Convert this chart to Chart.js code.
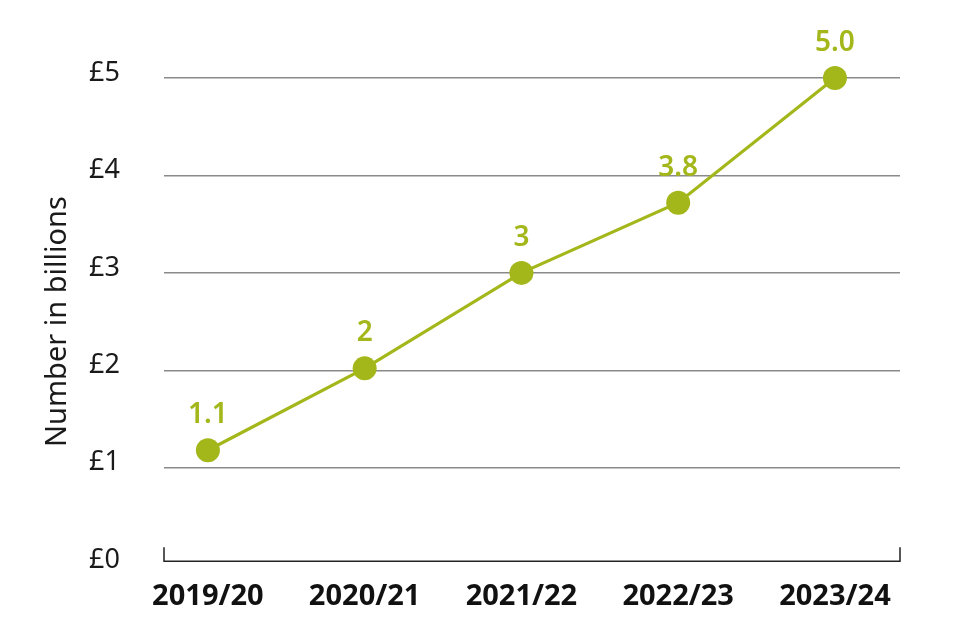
<!DOCTYPE html>
<html><head><meta charset="utf-8">
<script src="https://cdn.jsdelivr.net/npm/chart.js@4/dist/chart.umd.min.js"></script>
<style>html,body{margin:0;padding:0;background:#fff}#wrap{width:960px;height:640px}</style>
</head><body><div id="wrap"><canvas id="c" width="960" height="640"></canvas></div>
<script>
const categories = ["2019/20","2020/21","2021/22","2022/23","2023/24"];
const values = [1.18, 2.02, 3.0, 3.72, 5.0];
const valueLabels = ["1.1","2","3","3.8","5.0"];
const yTicks = [0,1,2,3,4,5];

const GREEN = "#a4b71a";
const FONT = "'Noto Sans', sans-serif";

const labelPlugin = {
  id: 'labels',
  afterDatasetsDraw(chart) {
    const ctx = chart.ctx;
    const meta = chart.getDatasetMeta(0);
    ctx.save();
    ctx.fillStyle = GREEN;
    ctx.font = "600 28px " + FONT;
    ctx.textAlign = "center";
    ctx.textBaseline = "middle";
    meta.data.forEach((pt, i) => {
      ctx.fillText(valueLabels[i], pt.x, pt.y - 35);
    });
    ctx.restore();
  }
};
const bracketPlugin = {
  id: 'bracket',
  beforeDatasetsDraw(chart) {
    const ctx = chart.ctx, a = chart.chartArea;
    const y0 = chart.scales.y.getPixelForValue(0) - 4;
    ctx.save();
    ctx.strokeStyle = "#222";
    ctx.lineWidth = 1.5;
    ctx.beginPath();
    ctx.moveTo(a.left, y0 - 14);
    ctx.lineTo(a.left, y0);
    ctx.lineTo(a.right, y0);
    ctx.lineTo(a.right, y0 - 14);
    ctx.stroke();
    ctx.restore();
  }
};

new Chart(document.getElementById('c'), {
  type: 'line',
  data: {
    datasets: [{
      data: values.map((v, i) => ({x: i, y: v})),
      borderColor: GREEN,
      backgroundColor: GREEN,
      borderWidth: 3.2,
      pointRadius: 12,
      pointHoverRadius: 12,
      pointBackgroundColor: GREEN,
      pointBorderWidth: 0,
      clip: false
    }]
  },
  options: {
    responsive: false,
    animation: false,
    events: [],
    layout: { padding: { top: 78, right: 60, bottom: 20, left: 40 } },
    plugins: { legend: { display: false }, tooltip: { enabled: false } },
    scales: {
      x: {
        type: 'linear',
        min: -0.28, max: 4.415,
        afterBuildTicks(s) { s.ticks = categories.map((c, i) => ({value: i})); },
        grid: { display: false },
        border: { display: false },
        ticks: {
          autoSkip: false,
          maxRotation: 0,
          color: "#111",
          font: { family: FONT, size: 29, weight: 'bold' },
          padding: 6,
          callback: (v) => categories[v]
        }
      },
      y: {
        min: 0, max: 5,
        afterBuildTicks(s) { s.ticks = yTicks.map(v => ({value: v})); },
        afterFit(s) { s.width = 124; },
        border: { display: false },
        grid: {
          color: (c) => c.tick && c.tick.value === 0 ? 'rgba(0,0,0,0)' : '#8a8a8a',
          lineWidth: 1.5,
          drawTicks: false
        },
        ticks: {
          color: "#1a1a1a",
          font: { family: FONT, size: 27 },
          padding: 44,
          labelOffset: -5,
          callback: (v) => "£" + v
        },
        title: {
          display: true,
          text: "Number in billions",
          color: "#1a1a1a",
          font: { family: FONT, size: 29 },
          padding: { top: 0, bottom: 0 }
        }
      }
    }
  },
  plugins: [labelPlugin, bracketPlugin]
});
</script>
</body></html>
